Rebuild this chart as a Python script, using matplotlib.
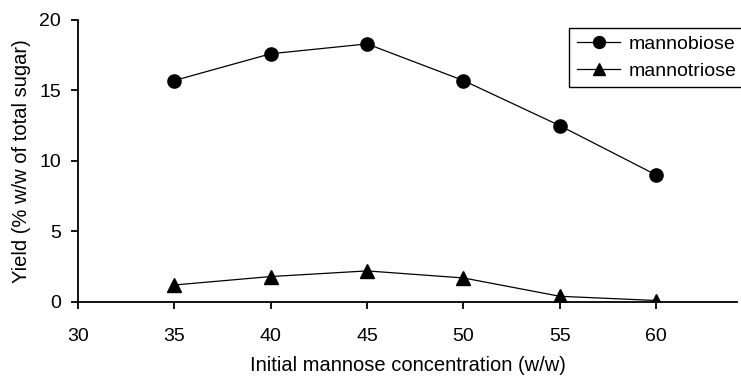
import matplotlib.pyplot as plt

plt.rcParams['font.family'] = ['Liberation Sans', 'DejaVu Sans']

# data
conc = [35, 40, 45, 50, 55, 60]
mannobiose = [15.7, 17.6, 18.3, 15.7, 12.5, 9.0]
mannotriose = [1.2, 1.8, 2.2, 1.7, 0.4, 0.1]

fig = plt.figure(figsize=(7.41, 3.76), dpi=100)
ax = fig.add_axes([0.105, 0.197, 0.89, 0.75])

ax.plot(conc, mannobiose, color='black', lw=0.9, marker='o', ms=9.5, label='mannobiose')
ax.plot(conc, mannotriose, color='black', lw=0.9, marker='^', ms=9.5, label='mannotriose')

ax.set_xlim(30, 64.2)
ax.set_ylim(0, 20)
ax.set_xticks([30, 35, 40, 45, 50, 55, 60])
ax.set_yticks([0, 5, 10, 15, 20])
for s in ['top', 'right']:
    ax.spines[s].set_visible(False)
ax.spines['left'].set_linewidth(1.3)
ax.spines['bottom'].set_linewidth(1.3)
ax.tick_params(direction='out', length=5, width=1.3, labelsize=14)
ax.tick_params(axis='x', pad=14)
ax.tick_params(axis='y', pad=7)

ax.set_xlabel('Initial mannose concentration (w/w)', fontsize=14.5, labelpad=8)
ax.set_ylabel('Yield (% w/w of total sugar)', fontsize=14.5, labelpad=6)

leg = ax.legend(loc='upper right', bbox_to_anchor=(1.01, 0.972), fontsize=14,
                fancybox=False, edgecolor='black', framealpha=1,
                handlelength=2.25, handletextpad=0.4, borderpad=0.4,
                labelspacing=0.45, borderaxespad=0, markerscale=0.9)
leg.get_frame().set_linewidth(1.0)

fig.savefig('out.png', dpi=100)
